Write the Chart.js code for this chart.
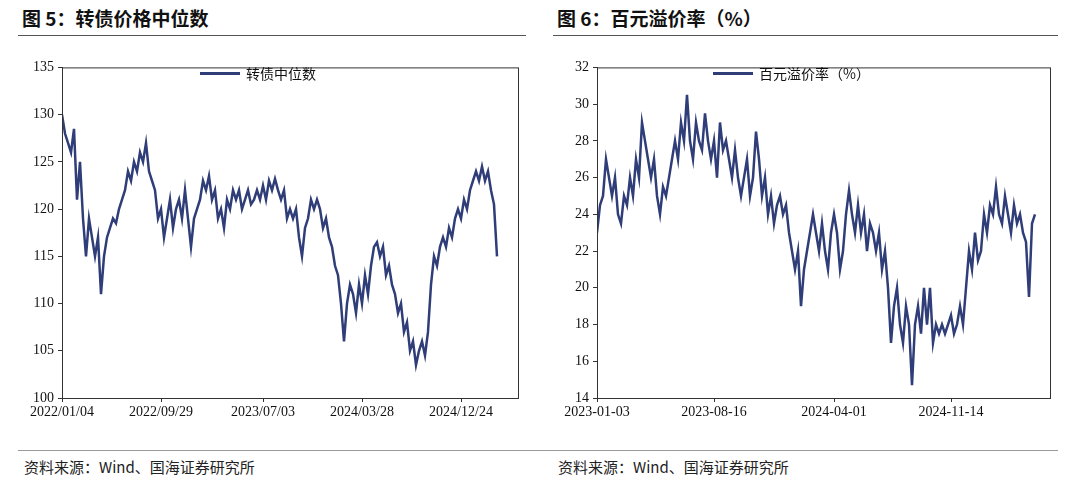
<!DOCTYPE html>
<html><head><meta charset="utf-8">
<script src="https://cdn.jsdelivr.net/npm/chart.js@4/dist/chart.umd.min.js"></script>
<style>
body{margin:0;width:1080px;height:494px;background:#fff;position:relative;overflow:hidden;font-family:"Noto Sans CJK SC",sans-serif}
.t{position:absolute;top:4px;font-size:19px;font-weight:bold;color:#111}
.rule{position:absolute;top:35px;height:1px;background:#555}
.src{position:absolute;top:456px;font-size:15px;color:#222}
.cv{position:absolute;top:55px;height:370px}
.lg{position:absolute;top:63px;font-size:14px;color:#111;display:flex;align-items:center}
.lg span{display:inline-block;width:40px;height:3px;background:#2f3d78;margin-right:6px}
</style></head><body>
<div class="t" style="left:22px">图 5：转债价格中位数</div>
<div class="t" style="left:557px">图 6：百元溢价率（%）</div>
<div class="rule" style="left:18px;width:508px"></div>
<div class="rule" style="left:553px;width:505px"></div>
<div class="rule" style="left:18px;width:1040px;top:450px;background:#999"></div>
<div class="src" style="left:24px">资料来源：Wind、国海证券研究所</div>
<div class="src" style="left:558px">资料来源：Wind、国海证券研究所</div>
<div class="cv" style="left:15px;width:515px"><canvas id="c1"></canvas></div>
<div class="cv" style="left:550px;width:510px"><canvas id="c2"></canvas></div>
<div class="lg" style="left:200px"><span></span>转债中位数</div>
<div class="lg" style="left:713px"><span></span>百元溢价率（%）</div>
<script>
const leftTickIdx=[0,33,67,100,133];
const leftTickLabels=["2022/01/04","2022/09/29","2023/07/03","2024/03/28","2024/12/24"];
const leftValues=[130,128,127,126,128.5,121,125,119,115,119,117,115,117,111,115,117,118,119,118.5,120,121,122,124,123,125,124,126,125,127,124,123,122,119,120,117,119,121,118,120,121,119,122,119,116,119,120,121,123,122,123.5,121,122,119,120,118,121,120,122,121,122,120,121,122,120.5,121,122,121,122.5,121,123,122,123.2,122,121,122,119,120,119,120,117,115,118,119,121,120,121,120,118,119,117,116,114,113,110,106,110,112,111,109,112,110,113,111,114,116,116.5,115,116,113,114,112,111,109,110,107,108,105,106,103.5,105,106,104.5,107,112,115,114,116,117,116,118,117,119,120,119,121,120,122,123,124,123,124.5,123,124,122,120.5,115];
const rightTickIdx=[0,39,79,118];
const rightTickLabels=["2023-01-03","2023-08-16","2024-04-01","2024-11-14"];
const rightValues=[23,24.5,25,27,26,25,26,24,23.5,25,24.5,26,25,27,26,29,28,27,26,27,25,24,25.5,25,26,27,28,27,29,28,30.5,28,27,29,28,27.5,29.5,28,27,28,26,29,27.5,28,27,26,27.5,26,25,26,27,25,26,28.5,27,25,26,24,25,23.5,24.5,25,24,24.5,23,22,21,22,19,21,22,23,24,23,22,23.5,22,21,23,24,23,21,22,24,25.3,24,23,24.5,23,24,22,23.5,23,22,23,21,22,20,17,19,20,18,17,19,18,14.7,18,19,17.5,20,18,20,17,18,17.5,18,17.5,18,18.5,17.5,18,19,18,20,22,21,23,21.5,22,24,23,24.5,24,25.5,24,23.5,25,24,23,24.5,23.5,24,23,22.5,19.5,23.5,24];
const navy='#2f3d78';
const boxPlugin={id:'box',afterDraw(c){const a=c.chartArea,x=c.ctx;x.save();x.strokeStyle='#333';x.lineWidth=1;x.strokeRect(a.left+0.5,a.top+0.5,a.right-a.left,a.bottom-a.top);x.restore();}};
function make(id,vals,tIdx,tLab,xmax,ymin,ymax,ystep,padR){
  new Chart(document.getElementById(id),{type:'line',
    data:{datasets:[{data:vals.map((v,i)=>({x:i,y:v})),borderColor:navy,borderWidth:2.5,pointRadius:0,tension:0}]},
    options:{responsive:true,maintainAspectRatio:false,animation:false,
      layout:{padding:{top:12,right:padR,left:0,bottom:0}},
      plugins:{legend:{display:false},tooltip:{enabled:false}},
      scales:{
        x:{type:'linear',min:0,max:xmax,afterFit(s){s.height=27},
          afterBuildTicks(s){s.ticks=tIdx.map(v=>({value:v}))},
          grid:{display:true,drawOnChartArea:false,tickLength:4,color:'#333'},border:{color:'#333'},
          ticks:{autoSkip:false,maxRotation:0,color:'#111',font:{family:'Liberation Serif',size:14},padding:2,
            callback:(v)=>tLab[tIdx.indexOf(v)]}},
        y:{min:ymin,max:ymax,afterFit(s){s.width=47},
          grid:{display:true,drawOnChartArea:false,tickLength:4,color:'#333'},border:{color:'#333'},
          ticks:{stepSize:ystep,color:'#111',font:{family:'Liberation Serif',size:14},padding:4}}
      }},plugins:[boxPlugin]});
}
make('c1',leftValues,leftTickIdx,leftTickLabels,152,100,135,5,12);
make('c2',rightValues,rightTickIdx,rightTickLabels,151,14,32,2,10);
</script></body></html>
